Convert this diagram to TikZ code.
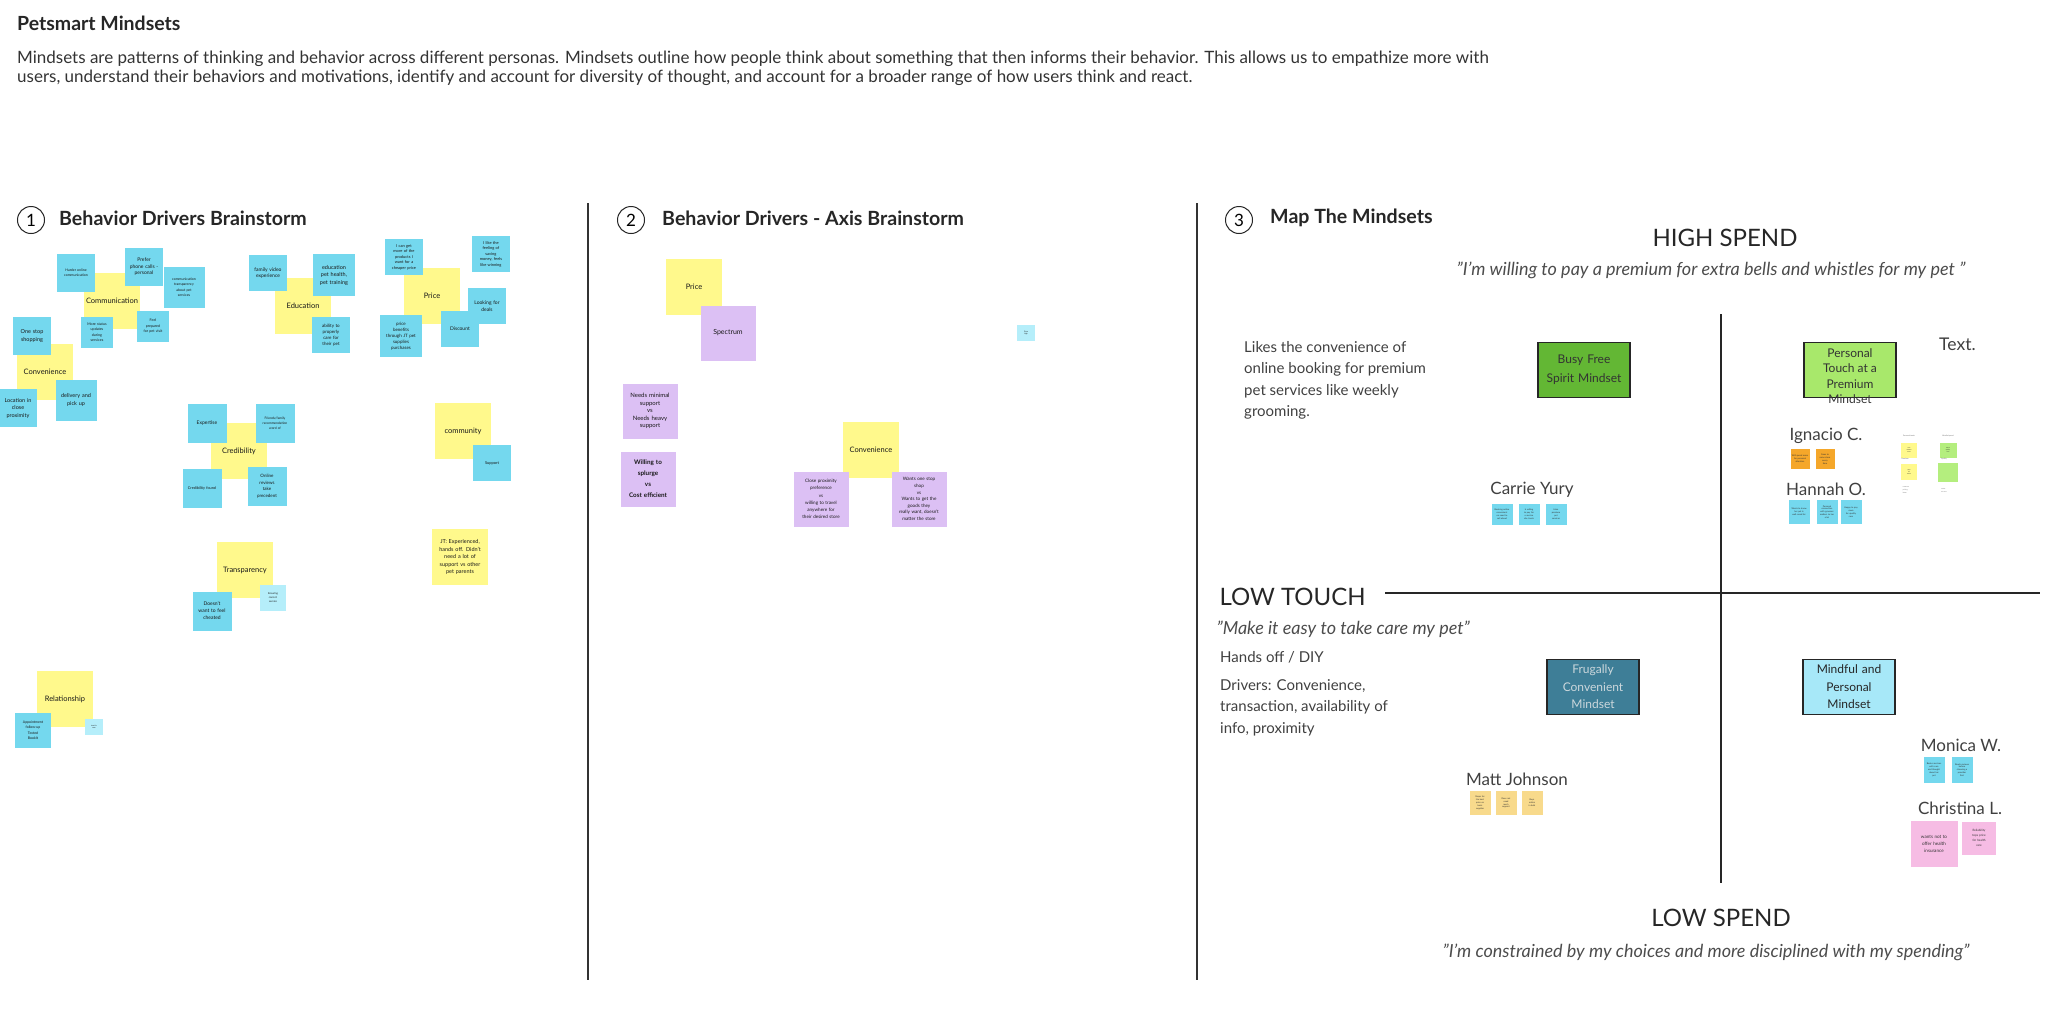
\documentclass[tikz,border=0pt]{standalone}
\usepackage{fontspec}
\setmainfont{Lato}
\definecolor{stickyy}{HTML}{FFF98C}
\definecolor{stickyb}{HTML}{74D8EE}
\definecolor{stickylb}{HTML}{B5EEFA}
\definecolor{stickyp}{HTML}{DCC0F4}
\definecolor{stickyo}{HTML}{F5A72A}
\definecolor{stickylo}{HTML}{F8DA8C}
\definecolor{stickypk}{HTML}{F6BCE4}
\definecolor{stickyg}{HTML}{B4EE7E}
\definecolor{busygreen}{HTML}{63B734}
\definecolor{touchgreen}{HTML}{A8E86B}
\definecolor{frugalteal}{HTML}{3E7E97}
\definecolor{mindfulblue}{HTML}{A7E8F8}
\tikzstyle{notey}=[fill=stickyy,minimum size=56pt,text width=52pt,inner sep=2pt,align=center,text=black!90,font=\fontsize{7.5}{9}\selectfont]
\tikzstyle{noteb}=[fill=stickyb,minimum size=38pt,text width=34pt,inner sep=2pt,align=center,text=black!90,font=\fontsize{5}{6.5}\selectfont]
\tikzstyle{notep}=[fill=stickyp,minimum size=55pt,text width=51pt,inner sep=2pt,align=center,text=black!90,font=\fontsize{6}{7.5}\selectfont]
\tikzstyle{tinynote}=[minimum width=21pt,minimum height=24pt,text width=18pt,inner sep=1pt,align=center,text=black!80,font=\fontsize{2.2}{2.9}\selectfont]
\tikzstyle{mindset}=[draw=black!85,line width=1.6pt,minimum width=92pt,minimum height=55pt,text width=88pt,align=center,inner sep=1pt,font=\fontsize{12}{17.5}\selectfont]
\tikzstyle{persona}=[font=\fontsize{17}{19}\selectfont,text=black!75]
\tikzstyle{quotetext}=[font=\itshape\fontsize{18}{20}\selectfont,text=black!70]
\tikzstyle{axislabel}=[font=\fontsize{24}{26}\selectfont,text=black!85]
\tikzstyle{bodytext}=[align=left,anchor=north west,inner sep=0pt,font=\fontsize{15}{21.5}\selectfont,text=black!75]
\tikzstyle{stepnum}=[circle,draw=black!85,line width=1pt,minimum size=27pt,inner sep=0pt,font=\fontsize{17}{17}\selectfont]
\tikzstyle{heading}=[anchor=west,inner sep=0pt,font=\bfseries\fontsize{19.6}{21}\selectfont,text=black!85]

\begin{document}
\begin{tikzpicture}[x=1pt,y=-1pt]
    \useasboundingbox (0,0) rectangle (2054,1018);
    % page header
    \node[anchor=west,inner sep=0pt,font=\bfseries\fontsize{19.5}{21}\selectfont,text=black!85] (title) at (17,23) {Petsmart Mindsets};
    \node[align=left,anchor=north west,inner sep=0pt,font=\fontsize{17}{18.5}\selectfont,text=black!80] (intro) at (17,51)
        {Mindsets are patterns of thinking and behavior across different personas. Mindsets outline how people think about something that then informs their behavior. This allows us to empathize more with\\
         users, understand their behaviors and motivations, identify and account for diversity of thought, and account for a broader range of how users think and react.};

    % column dividers
    \coordinate (d1top) at (588,203);
    \coordinate (d1bot) at (588,980);
    \coordinate (d2top) at (1197,203);
    \coordinate (d2bot) at (1197,980);
    \draw[line width=1.2pt,black!80] (d1top) -- (d1bot);
    \draw[line width=1.2pt,black!80] (d2top) -- (d2bot);

    % 1 behavior drivers brainstorm
    \node[stepnum] (s1) at (31,220) {1};
    \node[heading] (h1) at (59,218) {Behavior Drivers Brainstorm};

    \node[notey] (comm) at (112,301) {Communication};
    \node[notey] (conv) at (45,372) {Convenience};
    \node[notey] (edu) at (303,306) {Education};
    \node[notey] (price) at (432,296) {Price};
    \node[notey] (cred) at (239,451) {Credibility};
    \node[notey] (comty) at (463,431) {community};
    \node[notey,font=\fontsize{5.5}{7.5}\selectfont] (jt) at (460,557) {JT: Experienced, hands off. Didn't need a lot of support vs other pet parents};
    \node[notey] (transp) at (245,570) {Transparency};
    \node[notey] (rel) at (65,699) {Relationship};

    \node[noteb,font=\fontsize{3.5}{5}\selectfont] (b1) at (76,273) {Harder online communication};
    \node[noteb] (b2) at (144,267) {Prefer\\ phone calls -\\ personal};
    \node[noteb,minimum size=41pt,text width=37pt,font=\fontsize{3.5}{5.5}\selectfont] (b3) at (184,287) {communication\\ transparency\\ about pet\\ services};
    \node[noteb,minimum size=31pt,text width=28pt,font=\fontsize{3.6}{5.5}\selectfont] (b4) at (97,332) {More status\\ updates\\ during\\ services};
    \node[noteb,minimum size=31pt,text width=28pt,font=\fontsize{3.6}{5.5}\selectfont] (b5) at (153,326) {Feel\\ prepared\\ for pet visit};
    \node[noteb,font=\fontsize{5.5}{8}\selectfont] (b6) at (32,336) {One stop\\ shopping};
    \node[noteb,minimum size=41pt,font=\fontsize{5.5}{8}\selectfont] (b7) at (76,400) {delivery and\\ pick up};
    \node[noteb,font=\fontsize{5.5}{7.5}\selectfont] (b8) at (18,408) {Location in\\ close\\ proximity};
    \node[noteb,minimum size=36pt] (b9) at (268,273) {family video\\ experience};
    \node[noteb,minimum size=42pt,text width=38pt,font=\fontsize{5.5}{7.5}\selectfont] (b10) at (334,275) {education\\ pet health,\\ pet training};
    \node[noteb,minimum size=36pt,font=\fontsize{4.5}{6}\selectfont] (b11) at (331,335) {ability to\\ properly\\ care for\\ their pet};
    \node[noteb,minimum size=36pt,font=\fontsize{4}{5.5}\selectfont] (b12) at (404,257) {I can get\\ more of the\\ products I\\ want for a\\ cheaper price};
    \node[noteb,minimum size=36pt,font=\fontsize{4}{5.5}\selectfont] (b13) at (491,254) {I like the\\ feeling of\\ saving\\ money, feels\\ like winning};
    \node[noteb,minimum size=36pt] (b14) at (487,306) {Looking for\\ deals};
    \node[noteb,minimum size=36pt] (b15) at (460,329) {Discount};
    \node[noteb,minimum size=42pt,text width=38pt,font=\fontsize{4.5}{6}\selectfont] (b16) at (401,336) {price\\ benefits\\ through JT pet\\ supplies\\ purchases};
    \node[noteb,minimum size=39pt] (b17) at (207,423) {Expertise};
    \node[noteb,minimum size=39pt,font=\fontsize{3.3}{5}\selectfont] (b18) at (275,423) {Friends/family\\ recommendation\\ word of};
    \node[noteb,minimum size=39pt,font=\fontsize{3.8}{5}\selectfont] (b19) at (202,488) {Credibility found};
    \node[noteb,minimum size=39pt,font=\fontsize{4.5}{6.5}\selectfont] (b20) at (267,486) {Online\\ reviews\\ take\\ precedent};
    \node[noteb,minimum size=36pt,font=\fontsize{4}{5}\selectfont] (b21) at (492,463) {Support};
    \node[noteb,minimum size=39pt,font=\fontsize{5}{7}\selectfont] (b22) at (212,611) {Doesn't\\ want to feel\\ cheated};
    \node[noteb,fill=stickylb,minimum size=26pt,text width=22pt,font=\fontsize{2.6}{4}\selectfont] (lb1) at (273,598) {Ensuring\\ correct\\ service};
    \node[noteb,minimum size=35pt,text width=32pt,font=\fontsize{3.5}{5.5}\selectfont] (b23) at (33,730) {Appointment\\ follow-up\\ Texted\\ BookIt};
    \node[noteb,fill=stickylb,minimum size=16pt,text width=14pt,font=\fontsize{1.8}{2.6}\selectfont] (lb2) at (94,727) {trust in\\ care};

    % 2 behavior drivers - axis brainstorm
    \node[stepnum] (s2) at (631,220) {2};
    \node[heading] (h2) at (662,218) {Behavior Drivers - Axis Brainstorm};

    \node[notey] (aprice) at (694,287) {Price};
    \node[notep,font=\fontsize{7}{9}\selectfont] (spec) at (728,333) {Spectrum};
    \node[noteb,fill=stickylb,minimum size=16pt,text width=14pt,font=\fontsize{1.8}{2.6}\selectfont] (lb3) at (1026,333) {Price\\ high};
    \node[notep] (pu1) at (650,411) {Needs minimal\\ support\\ vs\\ Needs heavy\\ support};
    \node[notep,font=\bfseries\fontsize{6.3}{11}\selectfont] (pu2) at (648,479) {Willing to\\ splurge\\ vs\\ Cost efficient};
    \node[notey] (aconv) at (871,450) {Convenience};
    \node[notep,font=\fontsize{4.6}{7.2}\selectfont] (pu3) at (821,499) {Close proximity\\ preference\\ vs\\ willing to travel\\ anywhere for\\ their desired store};
    \node[notep,font=\fontsize{4.6}{6.6}\selectfont] (pu4) at (919,499) {Wants one stop\\ shop\\ vs\\ Wants to get the\\ goods they\\ really want, doesn't\\ matter the store};

    % 3 map the mindsets
    \node[stepnum] (s3) at (1239,220) {3};
    \node[heading] (h3) at (1270,218) {Map The Mindsets};

    \node[axislabel] (high) at (1725,238) {HIGH SPEND};
    \node[quotetext] (highq) at (1711,270) {"I'm willing to pay a premium for extra bells and whistles for my pet "};
    \node[axislabel,anchor=west] (low) at (1216,597) {LOW TOUCH};
    \node[quotetext,anchor=west] (lowq) at (1213,629) {"Make it easy to take care my pet"};
    \node[axislabel] (lowsp) at (1721,918) {LOW SPEND};
    \node[quotetext] (lowspq) at (1706,952) {"I'm constrained by my choices and more disciplined with my spending"};

    \coordinate (vtop) at (1721,314);
    \coordinate (vbot) at (1721,883);
    \coordinate (hleft) at (1385,593);
    \coordinate (hright) at (2040,593);
    \draw[line width=1.6pt,black!85] (vtop) -- (vbot);
    \draw[line width=2.2pt,black!85] (hleft) -- (hright);

    \node[bodytext] (likes) at (1244,341) {Likes the convenience of\\ online booking for premium\\ pet services like weekly\\ grooming.};
    \node[bodytext] (hands) at (1220,651) {Hands off / DIY};
    \node[bodytext] (drivers) at (1220,679) {Drivers: Convenience,\\ transaction, availability of\\ info, proximity};
    \node[bodytext,font=\fontsize{17.5}{20}\selectfont] (text) at (1939,338) {Text.};

    \node[mindset,fill=busygreen,text=black!80,font=\fontsize{12}{19}\selectfont] (busy) at (1584,370) {Busy Free\\ Spirit Mindset};
    \node[mindset,fill=touchgreen] (touch) at (1850,370) {};
    \node[align=center,font=\fontsize{12}{15.5}\selectfont,text=black!80] (touchtxt) at (1850,376) {Personal\\ Touch at a\\ Premium\\ Mindset};
    \node[mindset,fill=frugalteal,text=cyan!10!white!85!black] (frugal) at (1593,687) {Frugally\\ Convenient\\ Mindset};
    \node[mindset,fill=mindfulblue,text=black!85] (mindful) at (1849,687) {Mindful and\\ Personal\\ Mindset};

    % personas
    \node[persona] (carrie) at (1532,490) {Carrie Yury};
    \node[persona] (ignacio) at (1826,436) {Ignacio C.};
    \node[persona] (hannah) at (1826,489) {Hannah O.};
    \node[persona] (matt) at (1517,779) {Matt Johnson};
    \node[persona] (monica) at (1961,745) {Monica W.};
    \node[persona] (christina) at (1960,808) {Christina L.};

    \foreach \nx/\nname/\ntext in {1502/ca1/{Booking online\\ convenient\\ no need to\\ call ahead},1529/ca2/{Is willing\\ to pay for\\ a service\\ she trusts},1556/ca3/{Likes\\ premium\\ pet\\ services}}
    \node[tinynote,fill=stickyb,minimum height=21pt] (\nname) at (\nx,514) {\ntext};
    \foreach \nx/\nname/\ntext in {1799/ha1/{Wants to know\\ her pet is\\ well cared for},1827/ha2/{Personal\\ connection\\ with groomer\\ matters to her\\ a lot},1851/ha3/{Happy to pay\\ more\\ for quality\\ care}}
    \node[tinynote,fill=stickyb] (\nname) at (\nx,512) {\ntext};
    \foreach \nx/\nname/\ntext in {1800/ig1/{Will spend more\\ for personal\\ attention},1825/ig2/{Goes to\\ same store\\ every\\ time}}
    \node[tinynote,fill=stickyo,minimum width=19pt,minimum height=20pt,text width=17pt] (\nname) at (\nx,459) {\ntext};
    \foreach \nx/\nname/\ntext in {1480/ma1/{Shops for\\ the best\\ price on\\ basic\\ supplies},1506/ma2/{Does not\\ need\\ much\\ support},1532/ma3/{Buys\\ online\\ in bulk}}
    \node[tinynote,fill=stickylo] (\nname) at (\nx,803) {\ntext};
    \foreach \nx/\nname/\ntext in {1934/mo1/{Books services\\ with care\\ and thought\\ about her\\ pet},1962/mo2/{Reads reviews\\ before\\ choosing a\\ provider\\ first}}
    \node[tinynote,fill=stickyb,minimum height=26pt] (\nname) at (\nx,770) {\ntext};
    \node[tinynote,fill=stickypk,minimum width=47pt,minimum height=46pt,text width=44pt,font=\fontsize{4.6}{7}\selectfont] (ch1) at (1934,844) {wants not to\\ offer health\\ insurance};
    \node[tinynote,fill=stickypk,minimum width=34pt,minimum height=33pt,text width=31pt,font=\fontsize{3}{5}\selectfont] (ch2) at (1979,838) {Reliability\\ tops price\\ for health\\ care};

    % small board beside Ignacio
    \node[inner sep=0pt,font=\fontsize{1.8}{2}\selectfont,text=black!60] (bl1) at (1909,436) {Personal touch};
    \node[tinynote,fill=stickyy,minimum width=16pt,minimum height=15pt,text width=14pt,font=\fontsize{1.5}{2}\selectfont] (by1) at (1909,450) {care\\ matters\\ most};
    \node[inner sep=0pt,font=\fontsize{1.8}{2}\selectfont,text=black!60] (bl2) at (1905,459) {Premium};
    \node[tinynote,fill=stickyy,minimum width=16pt,minimum height=16pt,text width=14pt,font=\fontsize{1.5}{2}\selectfont] (by2) at (1909,472) {pays\\ for\\ extras};
    \node[inner sep=0pt,align=left,font=\fontsize{1.6}{3}\selectfont,text=black!60] (bl3) at (1906,490) {notes on\\ pricing\\ ideas};
    \node[inner sep=0pt,font=\fontsize{1.8}{2}\selectfont,text=black!60] (bl4) at (1948,436) {Mindful spend};
    \node[tinynote,fill=stickyg,minimum width=17pt,minimum height=15pt,text width=15pt,font=\fontsize{1.5}{2}\selectfont] (bg1) at (1948,450) {wants\\ quality\\ care};
    \node[inner sep=0pt,font=\fontsize{1.8}{2}\selectfont,text=black!60] (bl5) at (1944,459) {Quality};
    \node[tinynote,fill=stickyg,minimum width=17pt,minimum height=19pt] (bg2) at (1948,472) {};
    \node[inner sep=0pt,align=left,font=\fontsize{1.6}{3}\selectfont,text=black!60] (bl6) at (1944,490) {notes\\ on care};
\end{tikzpicture}
\end{document}
